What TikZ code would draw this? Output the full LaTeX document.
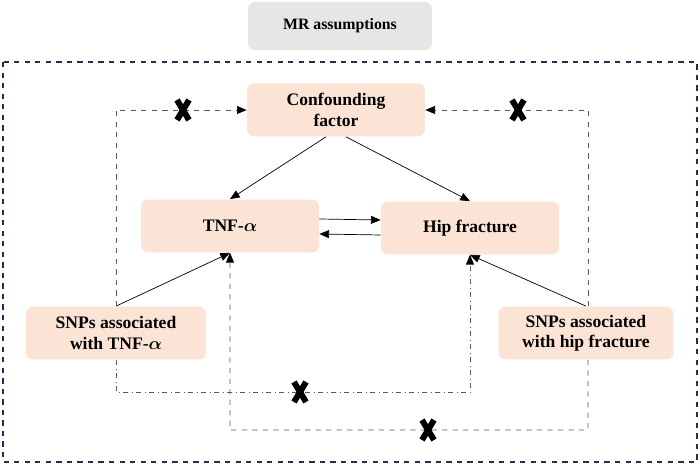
\documentclass[tikz,border=0pt]{standalone}
\usepackage{amsmath}
\usepackage{fontspec}
\setmainfont{Liberation Serif}
\usetikzlibrary{arrows.meta}
\definecolor{boxfill}{RGB}{251,228,213}
\definecolor{headfill}{RGB}{230,230,230}
\definecolor{framecol}{RGB}{40,45,80}
\begin{document}
\begin{tikzpicture}[x=0.02cm,y=-0.02cm,
    box/.style={
      rectangle,
      rounded corners=4pt,
      fill=boxfill,
      minimum width=3.56cm,
      minimum height=1.06cm,
      align=center,
      font=\fontsize{10}{11.5}\selectfont\bfseries
    },
    link/.style={-{Triangle[length=5.5pt,width=4.5pt,black]}, thin},
    dashlink/.style={link, gray!70!black, dashed},
    dotlink/.style={link, gray!70!black, dash dot},
    cross/.style={line width=3.4pt, line cap=butt}
  ]
    \useasboundingbox (0,0) rectangle (700,465);

    % Heading and frame
    \node[box, fill=headfill, minimum width=3.68cm, minimum height=0.96cm,
      font=\fontsize{9}{10}\selectfont\bfseries] (head) at (340,26) {MR assumptions};
    \draw[framecol, dashed, thick] (3,62) rectangle (697,462);

    % Boxes
    \node[box] (conf) at (336,110) {Confounding\\factor};
    \node[box] (tnf) at (230,226) {TNF-$\boldsymbol{\alpha}$};
    \node[box] (hip) at (470,228) {Hip fracture};
    \node[box, minimum width=3.6cm] (snpt) at (116,333) {SNPs associated\\with TNF-$\boldsymbol{\alpha}$};
    \node[box, minimum width=3.5cm] (snph) at (586,333) {SNPs associated\\with hip fracture};

    % Causal arrows
    \draw[link] ([xshift=-0.2cm]conf.south) -- (tnf.north);
    \draw[link] ([xshift=0.2cm]conf.south) -- (hip.north);
    \draw[link] ([yshift=0.14cm]tnf.east) -- ([yshift=0.16cm]hip.west);
    \draw[link] ([yshift=-0.14cm]hip.west) -- ([yshift=-0.16cm]tnf.east);
    \draw[link] (snpt.north) -- (tnf.south);
    \draw[link] (snph.north) -- (hip.south);

    % Violated paths
    \draw[dashlink] (snpt.north) |- (conf.west);
    \draw[dashlink] ([xshift=0.04cm]snph.north) |- (conf.east);
    \draw[dotlink] (snpt.south) -- (116,392) -| (hip.south);
    \draw[dashlink] ([xshift=0.04cm]snph.south) -- (588,430) -| (tnf.south);

    % Crosses
    \foreach \cx/\cy in {183/110, 518/110, 300/392, 428/430}{
      \draw[cross] (\cx-6,\cy-10) -- (\cx+6,\cy+10);
      \draw[cross] (\cx+6,\cy-10) -- (\cx-6,\cy+10);
    }
  \end{tikzpicture}
\end{document}
